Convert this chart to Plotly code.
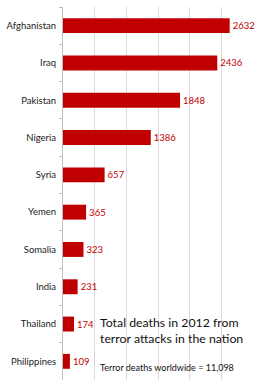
import plotly.graph_objects as go

countries = ["Afghanistan", "Iraq", "Pakistan", "Nigeria", "Syria", "Yemen",
             "Somalia", "India", "Thailand", "Philippines"]
deaths = [2632, 2436, 1848, 1386, 657, 365, 323, 231, 174, 109]

title_lines = ["Total deaths in 2012 from", "terror attacks in the nation"]
subtitle = "Terror deaths worldwide = 11,098"

RED = "#C00000"
FONT = "Lato"

fig = go.Figure(go.Bar(
    x=deaths, y=countries, orientation="h",
    marker=dict(color=RED, line=dict(width=0)),
    width=0.4,
    text=[str(v) for v in deaths], textposition="outside",
    textfont=dict(color=RED, size=9.5, family=FONT),
    cliponaxis=False,
))

fig.update_layout(
    width=260, height=388,
    margin=dict(l=63, r=7, t=7, b=8),
    plot_bgcolor="white", paper_bgcolor="white",
    showlegend=False,
    font=dict(family=FONT, color="#222222"),
    xaxis=dict(range=[0, 3000], dtick=500, showgrid=True, gridcolor="#e2d6dc",
               gridwidth=1, showticklabels=False, zeroline=False, showline=False,
               ticks=""),
    yaxis=dict(autorange="reversed", showline=True, linecolor="#bfbfbf", linewidth=1,
               ticks="outside", ticklen=3, tickcolor="#bfbfbf", tickson="boundaries",
               ticklabelstandoff=4,
               tickfont=dict(size=9.5, family=FONT, color="#222222"),
               showgrid=False),
    bargap=0.6,
)

fig.add_annotation(xref="paper", yref="paper", x=0.185, y=0.153, xanchor="left",
                   yanchor="middle", showarrow=False, align="left",
                   text=title_lines[0], font=dict(size=12.3, family=FONT, color="#111111"))
fig.add_annotation(xref="paper", yref="paper", x=0.185, y=0.111, xanchor="left",
                   yanchor="middle", showarrow=False, align="left",
                   text=title_lines[1], font=dict(size=12.3, family=FONT, color="#111111"))
fig.add_annotation(xref="paper", yref="paper", x=0.185, y=0.034, xanchor="left",
                   yanchor="middle", showarrow=False, align="left",
                   text=subtitle, font=dict(size=9, family=FONT, color="#111111"))

fig.write_html("out.html")
